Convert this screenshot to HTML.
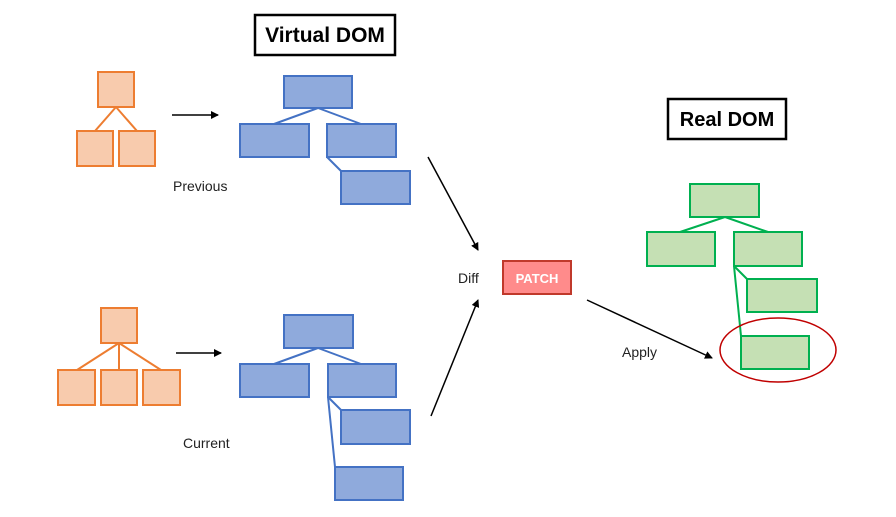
<!DOCTYPE html>
<html><head><meta charset="utf-8"><style>
html,body{margin:0;padding:0;background:#fff;}
svg{display:block;}
text{font-family:"Liberation Sans",sans-serif;}
</style></head><body>
<svg width="896" height="517" viewBox="0 0 896 517" xmlns="http://www.w3.org/2000/svg">
<defs>
<marker id="a" markerWidth="8" markerHeight="8" refX="7" refY="4" orient="auto" markerUnits="userSpaceOnUse"><path d="M0,0 L8,4 L0,8 z" fill="#000"/></marker>
</defs>
<g stroke="#ed7d31" stroke-width="2" fill="#f8cbad">
<line x1="116" y1="107" x2="95" y2="131"/><line x1="116" y1="107" x2="137" y2="131"/>
<rect x="98" y="72" width="36" height="35"/>
<rect x="77" y="131" width="36" height="35"/><rect x="119" y="131" width="36" height="35"/>
<line x1="119" y1="343" x2="77" y2="370"/><line x1="119" y1="343" x2="119" y2="370"/><line x1="119" y1="343" x2="161" y2="370"/>
<rect x="101" y="308" width="36" height="35"/>
<rect x="58" y="370" width="37" height="35"/><rect x="101" y="370" width="36" height="35"/><rect x="143" y="370" width="37" height="35"/>
</g>
<g stroke="#4472c4" stroke-width="2" fill="#8faadc">
<line x1="318" y1="108" x2="274" y2="124"/><line x1="318" y1="108" x2="361" y2="124"/><line x1="327" y1="157" x2="341" y2="171"/>
<rect x="284" y="76" width="68" height="32"/>
<rect x="240" y="124" width="69" height="33"/><rect x="327" y="124" width="69" height="33"/>
<rect x="341" y="171" width="69" height="33"/>
<line x1="318" y1="348" x2="274" y2="364"/><line x1="318" y1="348" x2="361" y2="364"/><line x1="328" y1="397" x2="341" y2="410"/><line x1="328" y1="397" x2="335" y2="467"/>
<rect x="284" y="315" width="69" height="33"/>
<rect x="240" y="364" width="69" height="33"/><rect x="328" y="364" width="68" height="33"/>
<rect x="341" y="410" width="69" height="34"/>
<rect x="335" y="467" width="68" height="33"/>
</g>
<g stroke="#00b050" stroke-width="2" fill="#c5e0b4">
<line x1="725" y1="217" x2="680" y2="232"/><line x1="725" y1="217" x2="768" y2="232"/><line x1="734" y1="266" x2="747" y2="279"/><line x1="734" y1="266" x2="741" y2="336"/>
<rect x="690" y="184" width="69" height="33"/>
<rect x="647" y="232" width="68" height="34"/><rect x="734" y="232" width="68" height="34"/>
<rect x="747" y="279" width="70" height="33"/>
<rect x="741" y="336" width="68" height="33"/>
</g>
<ellipse cx="778" cy="350" rx="58" ry="32" fill="none" stroke="#c00000" stroke-width="1.5"/>
<g stroke="#000" stroke-width="1.5" marker-end="url(#a)">
<line x1="172" y1="115" x2="218" y2="115"/>
<line x1="176" y1="353" x2="221" y2="353"/>
<line x1="428" y1="157" x2="478" y2="250"/>
<line x1="431" y1="416" x2="478" y2="300"/>
<line x1="587" y1="300" x2="712" y2="358"/>
</g>
<rect x="255" y="15" width="140" height="40" fill="#fff" stroke="#000" stroke-width="2.5"/>
<text x="325" y="42" font-size="21" font-weight="bold" text-anchor="middle">Virtual DOM</text>
<rect x="668" y="99" width="118" height="40" fill="#fff" stroke="#000" stroke-width="2.5"/>
<text x="727" y="126" font-size="20" font-weight="bold" text-anchor="middle">Real DOM</text>
<rect x="503" y="261" width="68" height="33" fill="#ff8b8b" stroke="#c0392b" stroke-width="2"/>
<text x="537" y="283" font-size="13" font-weight="bold" fill="#fff" text-anchor="middle">PATCH</text>
<g font-size="14" fill="#222">
<text x="173" y="191">Previous</text>
<text x="183" y="448">Current</text>
<text x="458" y="283">Diff</text>
<text x="622" y="357">Apply</text>
</g>
</svg>
</body></html>
